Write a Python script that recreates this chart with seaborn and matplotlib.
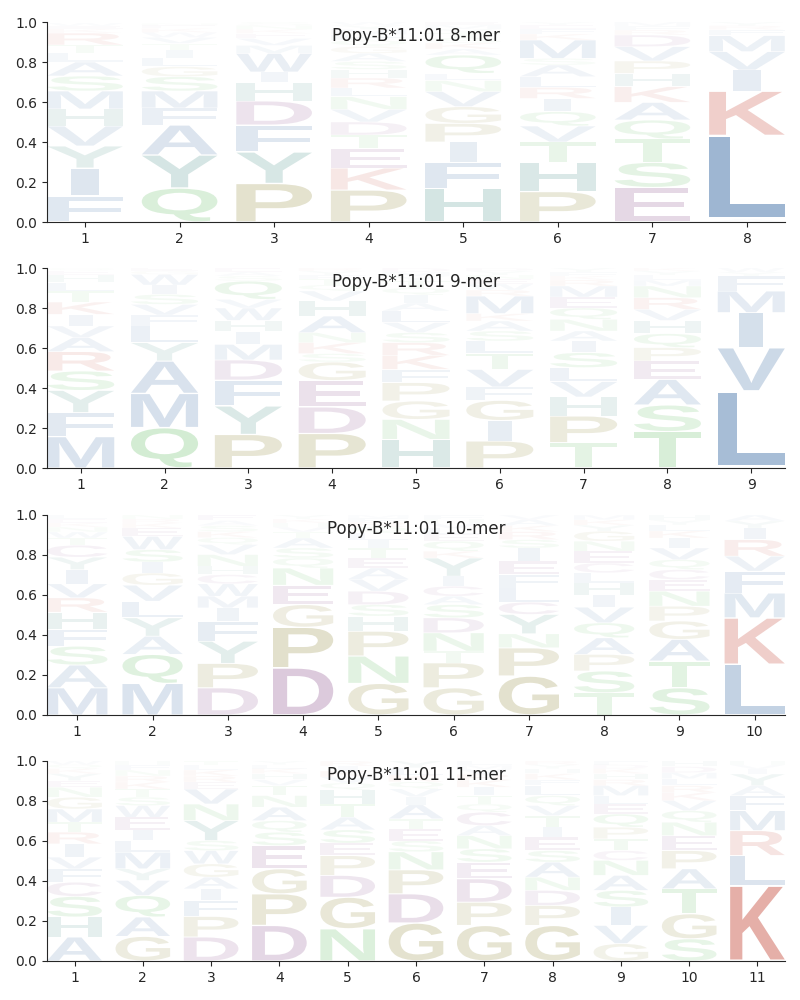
#!/usr/bin/env python3
"""
    Sequence logos for Popy-B*11:01 binding motifs, one panel per peptide length (8-11 mers).
"""
import matplotlib
matplotlib.use("Agg")
import matplotlib.pyplot as plt
import seaborn as sns
from matplotlib.textpath import TextPath
from matplotlib.patches import PathPatch
from matplotlib.font_manager import FontProperties
from matplotlib.transforms import Affine2D

allele = "Popy-B*11:01"

# letters per position, bottom to top, with their stacked heights
mer8_letters = ["FIYVHMSALTRKEW", "QYAFMSGLITVWKEN", "PYFDHIWMVEKNS", "PKETDVNLRHSAGQFMYW",
                "HFIPGVNLQAKSTYME", "PHTVQIRLASMKFEY", "ESTQAKHPVDRFM", "ALKIVMFRY"]
mer8_heights = [
    [.13, .14, .11, .10, .085, .09, .075, .07, .045, .04, .06, .02, .015, .015],
    [.17, .165, .15, .085, .085, .072, .05, .043, .04, .033, .03, .025, .02, .015, .01],
    [.193, .157, .135, .12, .092, .053, .093, .04, .035, .025, .02, .02, .017],
    [.16, .11, .098, .067, .065, .063, .064, .043, .05, .043, .04, .04, .035, .03, .03, .025, .02, .017],
    [.168, .132, .10, .093, .084, .075, .055, .036, .092, .03, .03, .025, .025, .02, .02, .015],
    [.152, .146, .102, .08, .072, .066, .055, .054, .058, .033, .092, .03, .025, .02, .015],
    [.173, .125, .117, .095, .088, .079, .066, .062, .072, .058, .025, .02, .02],
    [.015, .417, .223, .105, .092, .08, .03, .02, .018],
]

mer9_letters = ["MFYSRAVIKTLHEQ", "QMAYLFVSIWGE", "PYFDMIHWVQSAE", "PDEGSKNAHVQTFYR",
                "HNGPFKRSVLAIQTYMD", "PIGFVTLSAKMRWENYD", "TPHVLSIANQEMRKFY", "TSAEPQHVRNMLYK",
                "ALVIMFYW"]
mer9_heights = [
    [.157, .12, .111, .097, .097, .07, .058, .058, .062, .055, .042, .04, .02, .013],
    [.202, .171, .162, .092, .083, .055, .053, .05, .047, .053, .018, .014],
    [.168, .142, .13, .10, .078, .064, .056, .062, .043, .092, .025, .02, .02],
    [.173, .132, .133, .092, .042, .055, .05, .083, .075, .05, .03, .03, .02, .02, .015],
    [.143, .10, .092, .092, .066, .07, .064, .05, .05, .058, .04, .04, .035, .035, .025, .02, .02],
    [.135, .103, .10, .067, .088, .079, .063, .05, .05, .037, .088, .03, .03, .025, .02, .02, .015],
    [.127, .133, .095, .077, .07, .075, .058, .05, .058, .057, .055, .055, .03, .02, .02, .02],
    [.182, .133, .128, .092, .067, .07, .066, .055, .059, .058, .03, .025, .02, .015],
    [.008, .377, .217, .175, .108, .075, .02, .02],
]

mer10_letters = ["MASFHRVIYCTWNKEL", "MQAYLVGISWEKRN", "DPYFIMWCHNVQKSAE", "DPGENQSATVHKY",
                 "GNPHSDVAETILQRFM", "GPTNDSACIYKQELVHF", "GPNYCLFEISRKAV", "TSPAQVIHLCENGYKM",
                 "STAGPNECQVIKLYH", "LKMFVRIYA"]
mer10_heights = [
    [.136, .114, .094, .084, .086, .072, .07, .071, .062, .06, .036, .03, .025, .02, .02, .02],
    [.158, .145, .091, .092, .083, .08, .061, .055, .062, .066, .042, .025, .02, .02],
    [.136, .122, .111, .10, .067, .058, .062, .046, .042, .058, .05, .035, .03, .03, .025, .028],
    [.236, .203, .113, .097, .086, .05, .05, .05, .03, .025, .02, .02, .02],
    [.158, .137, .124, .075, .058, .067, .06, .056, .05, .05, .04, .035, .03, .025, .02, .015],
    [.136, .125, .058, .092, .075, .066, .042, .05, .05, .091, .034, .05, .035, .03, .025, .02, .021],
    [.195, .141, .07, .097, .061, .07, .068, .067, .066, .042, .04, .03, .03, .023],
    [.111, .109, .083, .083, .075, .078, .06, .062, .05, .049, .059, .05, .05, .03, .027, .024],
    [.136, .134, .108, .092, .074, .075, .058, .05, .05, .058, .05, .035, .03, .025, .025],
    [.253, .233, .124, .109, .075, .083, .058, .035, .03],
]

mer11_letters = ["AHSCFVIRTMGNEYKQW", "GAQVYMLIEWSTKRNFH", "DPFIAGWSYNVERKLT", "DPGESQANTVHKLY",
                 "NGDPESATHQVKIR", "GDPNSETAIVQKLY", "GPDESNACQTIKRVML", "GPDNASEITVQLFKHYR",
                 "GVISANCTPQELMRHKDF", "SGTAPENQVKRLMDH", "KLRMFAYIVH"]
mer11_heights = [
    [.12, .10, .103, .071, .067, .058, .067, .058, .05, .066, .059, .05, .033, .035, .025, .02, .018],
    [.123, .097, .108, .075, .058, .083, .058, .054, .063, .058, .042, .041, .035, .03, .03, .025, .02],
    [.12, .103, .08, .058, .058, .067, .066, .05, .10, .083, .075, .035, .03, .03, .025, .02],
    [.178, .158, .125, .116, .067, .058, .067, .058, .05, .03, .03, .025, .02, .018],
    [.161, .158, .109, .099, .062, .067, .063, .066, .07, .035, .03, .03, .025, .025],
    [.19, .146, .12, .09, .055, .06, .05, .07, .04, .04, .035, .035, .035, .034],
    [.178, .116, .117, .083, .067, .066, .05, .067, .041, .042, .042, .035, .03, .025, .02, .021],
    [.178, .10, .075, .066, .075, .058, .067, .05, .058, .05, .05, .05, .03, .03, .025, .02, .018],
    [.087, .091, .092, .083, .075, .075, .049, .059, .058, .066, .05, .042, .05, .03, .03, .025, .02, .018],
    [.111, .125, .125, .10, .091, .075, .067, .058, .05, .04, .035, .035, .03, .03, .028],
    [.378, .149, .125, .10, .075, .05, .058, .025, .02, .02],
]

panels = [("8-mer", mer8_letters, mer8_heights),
          ("9-mer", mer9_letters, mer9_heights),
          ("10-mer", mer10_letters, mer10_heights),
          ("11-mer", mer11_letters, mer11_heights)]

# chemistry colour scheme
group_colors = {
    "AVLIMFW": "#165093",
    "YH": "#00675b",
    "STNQ": "#28a528",
    "PG": "#736905",
    "DEC": "#6b1e6e",
    "KR": "#bc2c1a",
}
letter_color = {aa: col for group, col in group_colors.items() for aa in group}

font = FontProperties(family="Liberation Sans", weight="bold")
glyph_cache = {}


def glyph(letter):
    if letter not in glyph_cache:
        path = TextPath((0, 0), letter, size=1, prop=font)
        glyph_cache[letter] = (path, path.get_extents())
    return glyph_cache[letter]


def draw_letter(ax, letter, x, bottom, height, width=0.8, vpad=0.04):
    path, ext = glyph(letter)
    # thin glyphs (I) keep their narrow shape instead of filling the column
    w = width * min(1.0, ext.width / 0.4)
    h = height * (1 - vpad)
    y0 = bottom + height * vpad / 2
    trans = (Affine2D().translate(-ext.x0, -ext.y0)
             .scale(w / ext.width, h / ext.height)
             .translate(x - w / 2, y0))
    patch = PathPatch(trans.transform_path(path), facecolor=letter_color[letter],
                      edgecolor="none", alpha=min(1.0, height))
    ax.add_patch(patch)


sns.set_style("ticks")
fig = plt.figure(figsize=(8, 10), dpi=100)
bottoms = [0.778, 0.532, 0.285, 0.039]

for (name, letters, heights), b in zip(panels, bottoms):
    ax = fig.add_axes([0.059, b, 0.922, 0.2])
    n = len(letters)
    for pos, (col_letters, col_heights) in enumerate(zip(letters, heights), start=1):
        floor = 0.0
        for aa, h in zip(col_letters, col_heights):
            draw_letter(ax, aa, pos, floor, h)
            floor += h
    ax.set_xlim(0.6, n + 0.4)
    ax.set_ylim(0, 1)
    ax.set_xticks(range(1, n + 1))
    ax.set_yticks([0, 0.2, 0.4, 0.6, 0.8, 1.0])
    ax.text(0.5, 0.93, f"{allele} {name}", transform=ax.transAxes,
            ha="center", va="center", fontsize=12)
    sns.despine(ax=ax)

fig.savefig("out.png", dpi=100)
